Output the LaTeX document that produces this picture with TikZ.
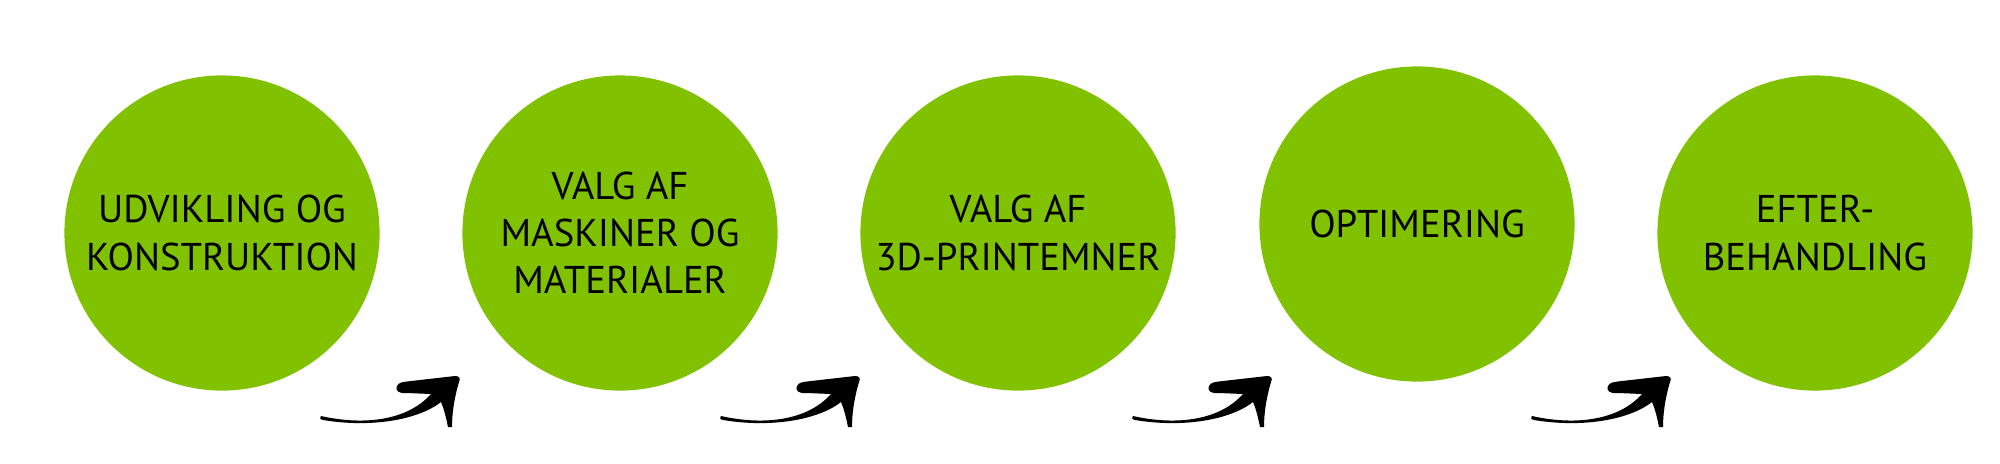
\documentclass[tikz,border=0pt]{standalone}
\usepackage{fontspec}
\setmainfont{PT Sans}
\definecolor{phasegreen}{RGB}{128,194,0}
\tikzset{
  phase/.style={circle, fill=phasegreen, minimum size=3.15cm, inner sep=0pt,
    align=center, font=\fontsize{11}{13.4}\selectfont},
  brusharrow/.pic={
    \fill[black] (0,-1) .. controls (40,8) and (85,5) .. (110,-23)
      -- (86,-24) .. controls (77,-23) and (74,-27) .. (76,-31)
      .. controls (78,-35) and (82,-35) .. (90,-36) -- (134,-41)
      .. controls (138,-41) and (140,-39) .. (138,-35)
      .. controls (133,-18) and (131,-3) .. (131,10) -- (127,10)
      .. controls (125,0) and (123,-8) .. (120,-15)
      .. controls (97,3) and (50,11) .. (2,3)
      .. controls (-1,2.5) and (-2,0) .. (0,-1) -- cycle;
  }
}
\begin{document}
\begin{tikzpicture}[x=0.01cm, y=-0.01cm]
  \useasboundingbox (0,0) rectangle (2000,463);
  \node[phase] (udvikling) at (222,233) {UDVIKLING OG\\KONSTRUKTION};
  \node[phase] (valgmaskiner) at (620,233) {VALG AF\\MASKINER OG\\MATERIALER};
  \node[phase] (valgemner) at (1018,233) {VALG AF\\3D-PRINTEMNER};
  \node[phase] (optimering) at (1417,224) {OPTIMERING};
  \node[phase] (efterbehandling) at (1815,233) {EFTER-\\BEHANDLING};
  % brush arrows under the gaps
  \foreach \n/\x in {1/321,2/721,3/1133,4/1532}{
    \coordinate (pil\n) at (\x,417);
    \pic at (pil\n) {brusharrow};
  }
\end{tikzpicture}
\end{document}
